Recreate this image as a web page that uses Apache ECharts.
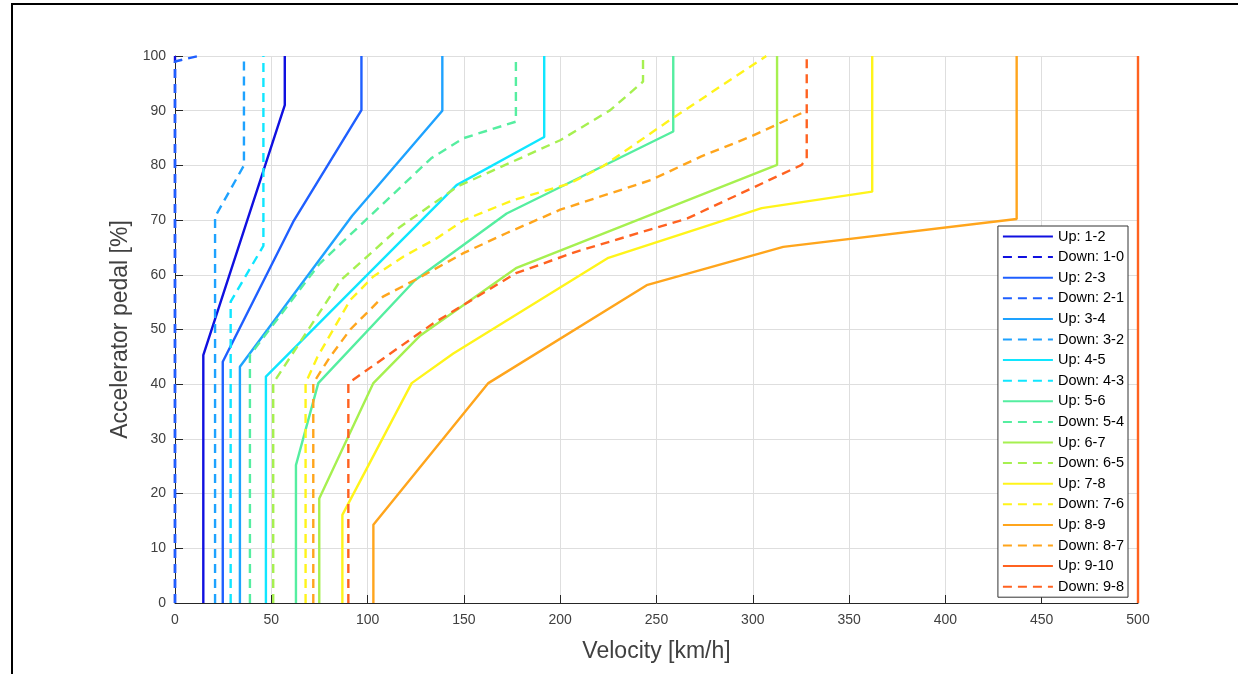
<!DOCTYPE html>
<html>
<head>
<meta charset="utf-8">
<script src="https://cdn.jsdelivr.net/npm/echarts@6/dist/echarts.min.js"></script>
<style>
html,body{margin:0;padding:0;background:#fff;}
#chart{width:1238px;height:674px;}
</style>
</head>
<body>
<div id="chart"></div>
<script>
// [velocity km/h, accelerator pedal %]
const up12   = [[14.7,0],[14.7,45.3],[57,91],[57,100]];
const down10 = [[0,0],[0,100]];
const up23   = [[24.8,0],[24.8,44.1],[61.4,69.7],[96.8,90.1],[96.8,100]];
const down21 = [[0,0],[0,99],[12,100]];
const up34   = [[33.7,0],[33.7,43.2],[92,70.8],[138.8,90],[138.8,100]];
const down32 = [[20.8,0],[20.8,70.6],[35.8,80],[35.8,100]];
const up45   = [[47.2,0],[47.2,41.4],[146.2,76.4],[191.7,85.2],[191.7,100]];
const down43 = [[28.9,0],[28.9,55.1],[45.9,65.3],[45.9,100]];
const up56   = [[62.8,0],[62.8,25.2],[74.4,40.2],[124.6,59],[172.2,71.2],[258.7,86.2],[258.7,100]];
const down54 = [[38.9,0],[38.9,45.3],[75,62],[133,81.3],[150,85],[177,88],[177,100]];
const up67   = [[74.9,0],[74.9,19.1],[103,40.2],[127,48.8],[177,61.2],[312.6,80.1],[312.6,100]];
const down65 = [[51,0],[51,40.2],[86,59],[117,68.8],[147,76.2],[200,84.6],[226,90.1],[243,95.3],[243,100]];
const up78   = [[86.9,0],[86.9,16.1],[122.9,40.2],[144.5,45.6],[225,63.1],[304.6,72.2],[362,75.2],[362,100]];
const down76 = [[67.8,0],[67.8,40.2],[74,45],[91,55.4],[103,59.7],[118.5,63.3],[136,66.7],[150,70],[176,73.7],[205,76.7],[222,79.8],[257,88.3],[307,100]];
const up89   = [[103,0],[103,14.3],[162.7,40.2],[244.9,58.1],[315.8,65.1],[437,70.2],[437,100]];
const down87 = [[71.8,0],[71.8,40.2],[80.5,45],[91,50],[108,56],[127,59.5],[150,64],[172,67.6],[200,71.9],[247,77.3],[273,81.6],[298.5,85.2],[328,90]];
const up910  = [[500,0],[500,100]];
const down98 = [[90,0],[90,40.2],[134,51.1],[177,60.3],[209,64.3],[266,70.3],[325.4,80.1],[328,81.3],[328,100]];

const seriesNames = ['Up: 1-2','Down: 1-0','Up: 2-3','Down: 2-1','Up: 3-4','Down: 3-2','Up: 4-5','Down: 4-3',
  'Up: 5-6','Down: 5-4','Up: 6-7','Down: 6-5','Up: 7-8','Down: 7-6','Up: 8-9','Down: 8-7','Up: 9-10','Down: 9-8'];
const seriesData = [up12,down10,up23,down21,up34,down32,up45,down43,up56,down54,up67,down65,up78,down76,up89,down87,up910,down98];
const gearColors = ['#1010e0','#1f5fff','#1ea2ff','#10e6ff','#55eea0','#a6f050','#fff41a','#ffa51c','#ff6220'];

const xMin = 0, xMax = 500, xStep = 50;
const yMin = 0, yMax = 100, yStep = 10;
const xName = 'Velocity [km/h]';
const yName = 'Accelerator pedal [%]';

const FONT = '"Liberation Sans", Arial, Helvetica, sans-serif';
const series = seriesNames.map((name, i) => ({
  name: name,
  type: 'line',
  data: seriesData[i],
  symbol: 'none',
  showSymbol: false,
  animation: false,
  lineStyle: {
    color: gearColors[Math.floor(i/2)],
    width: 2.4,
    type: (i % 2 === 1) ? [9,6] : 'solid'
  },
  itemStyle: { color: gearColors[Math.floor(i/2)] }
}));

const chart = echarts.init(document.getElementById('chart'), null, {renderer:'canvas'});
chart.setOption({
  animation: false,
  backgroundColor: '#ffffff',
  graphic: [{
    type: 'rect',
    shape: { x: 12, y: 4, width: 1400, height: 800 },
    style: { fill: 'none', stroke: '#000', lineWidth: 2 },
    z: 100, silent: true
  }],
  grid: { left: 175, top: 56, right: 100, bottom: 71, containLabel: false },
  xAxis: {
    type: 'value', min: xMin, max: xMax, interval: xStep,
    name: xName, nameLocation: 'middle', nameGap: 37,
    nameTextStyle: { fontFamily: FONT, fontSize: 23, color: '#404040' },
    axisLine: { show: true, onZero: false, lineStyle: { color: '#262626', width: 1 } },
    axisTick: { show: true, inside: true, length: 8, lineStyle: { color: '#262626' } },
    axisLabel: { fontFamily: FONT, fontSize: 14, color: '#404040', margin: 10 },
    splitLine: { show: true, lineStyle: { color: '#dedede', width: 1 } }
  },
  yAxis: {
    type: 'value', min: yMin, max: yMax, interval: yStep,
    name: yName, nameLocation: 'middle', nameGap: 43, nameRotate: 90,
    nameTextStyle: { fontFamily: FONT, fontSize: 23, color: '#404040' },
    axisLine: { show: true, onZero: false, lineStyle: { color: '#262626', width: 1 } },
    axisTick: { show: true, inside: true, length: 8, lineStyle: { color: '#262626' } },
    axisLabel: { fontFamily: FONT, fontSize: 14, color: '#404040', margin: 9 },
    splitLine: { show: true, lineStyle: { color: '#dedede', width: 1 } }
  },
  legend: {
    orient: 'vertical',
    right: 110, top: 226,
    padding: [3, 4, 3, 4],
    itemWidth: 50, itemHeight: 14, itemGap: 5.6,
    backgroundColor: '#ffffff',
    borderColor: '#333333', borderWidth: 1,
    itemStyle: { opacity: 0 },
    textStyle: { fontFamily: FONT, fontSize: 14.5, color: '#000' },
    data: seriesNames
  },
  series: series
});
</script>
</body>
</html>
